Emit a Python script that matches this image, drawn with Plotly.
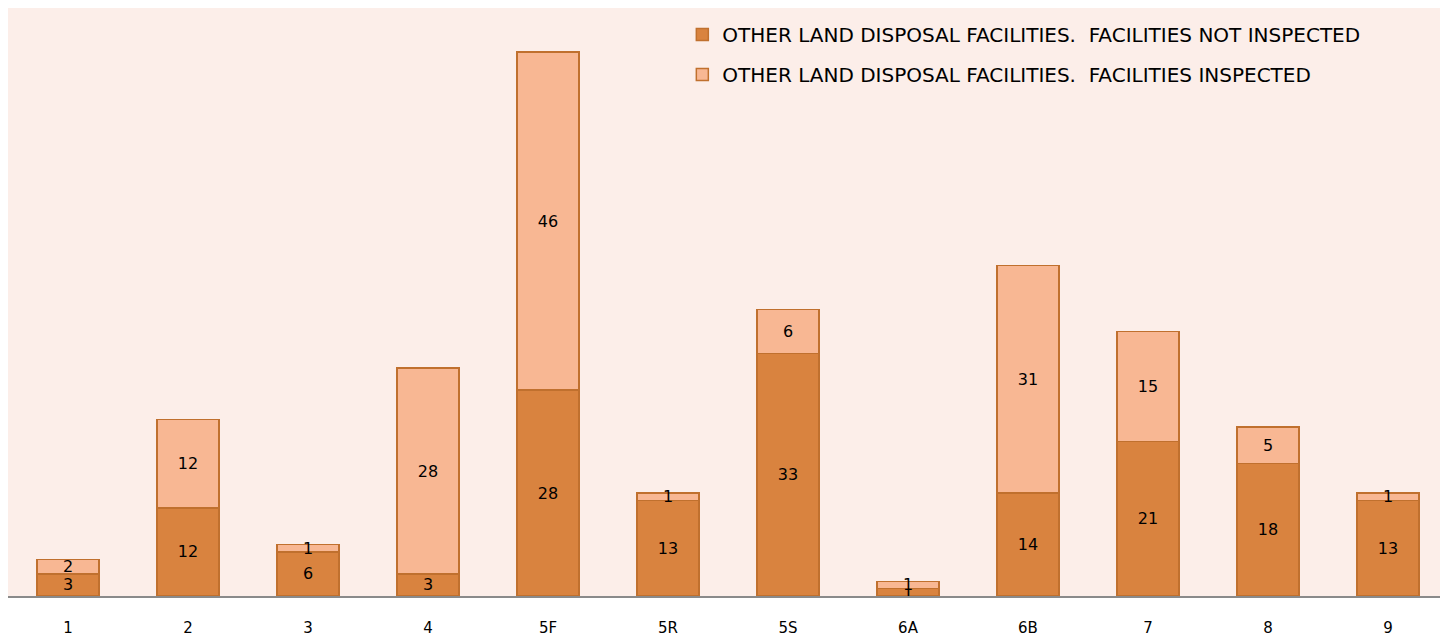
import plotly.graph_objects as go

categories = ["1", "2", "3", "4", "5F", "5R", "5S", "6A", "6B", "7", "8", "9"]
not_inspected = [3, 12, 6, 3, 28, 13, 33, 1, 14, 21, 18, 13]
inspected = [2, 12, 1, 28, 46, 1, 6, 1, 31, 15, 5, 1]
names = ["OTHER LAND DISPOSAL FACILITIES.  FACILITIES NOT INSPECTED",
         "OTHER LAND DISPOSAL FACILITIES.  FACILITIES INSPECTED"]

dark = "#D9833F"
light = "#F8B793"
edge = "#C0702E"

fig = go.Figure()
for vals, name, col, grp in [(not_inspected, names[0], dark, "a"), (inspected, names[1], light, "b")]:
    fig.add_trace(go.Bar(
        x=categories, y=vals, name=name, legendgroup=grp,
        marker=dict(color=col, line=dict(color=edge, width=1.5)),
        text=[str(v) for v in vals], textposition="inside", insidetextanchor="middle",
        textangle=0, constraintext="none",
        insidetextfont=dict(color="black", family="DejaVu Sans", size=16),
        width=0.52,
    ))

fig.update_layout(
    barmode="stack",
    width=1440, height=636,
    margin=dict(l=8, r=0, t=8, b=40),
    paper_bgcolor="white",
    plot_bgcolor="#FCEEE9",
    uniformtext=dict(minsize=16, mode="show"),
    showlegend=True,
    legend=dict(x=0.4709, xanchor="left", y=0.988, yanchor="top",
                traceorder="grouped", tracegroupgap=11,
                font=dict(family="DejaVu Sans", size=20, color="black"),
                bgcolor="rgba(0,0,0,0)"),
    xaxis=dict(showline=True, linecolor="#8A8A8A", linewidth=2, showgrid=False,
               range=[-0.5, 11.4333],
               ticks="outside", ticklen=0, ticklabelstandoff=17, automargin=False,
               tickfont=dict(family="DejaVu Sans", size=15, color="black")),
    yaxis=dict(range=[0, 80], visible=False, showgrid=False, automargin=False),
)

fig.write_html(
    "out.html",
    config={"displayModeBar": False},
    post_script="document.body.style.margin='0';document.body.style.overflow='hidden';",
)
